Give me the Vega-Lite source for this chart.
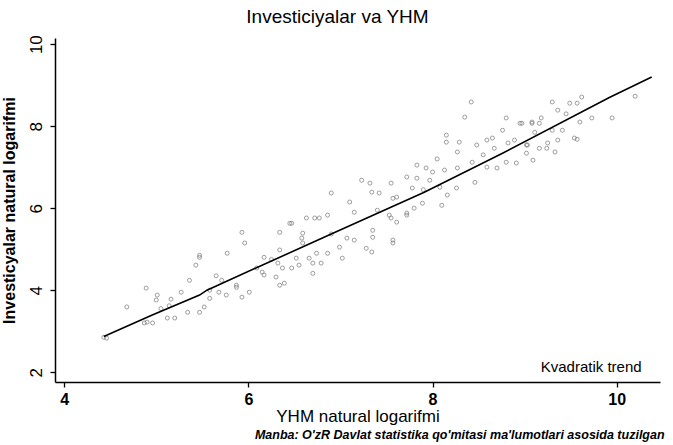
{
  "$schema": "https://vega.github.io/schema/vega-lite/v6.json",
  "width": 605,
  "height": 344,
  "autosize": {"type": "none"},
  "padding": {"left": 55, "top": 38, "right": 13, "bottom": 63},
  "background": "white",
  "title": {"text": "Investiciyalar va YHM", "font": "Liberation Sans", "fontSize": 19, "fontWeight": "normal", "color": "black", "offset": 8, "dx": -20},
  "config": {
    "view": {"stroke": null},
    "axis": {"grid": false, "domainColor": "black", "domainWidth": 1.5, "tickColor": "black", "tickWidth": 1.3, "tickSize": 5, "labelFont": "Liberation Sans", "titleFont": "Liberation Sans", "labelColor": "black", "titleColor": "black"}
  },
  "datasets": {
    "pts": [
      {"x": 4.43, "y": 2.85}, {"x": 4.46, "y": 2.83}, {"x": 4.68, "y": 3.59}, {"x": 4.87, "y": 3.2}, {"x": 4.9, "y": 3.22},
      {"x": 4.96, "y": 3.2}, {"x": 4.89, "y": 4.05}, {"x": 5.01, "y": 3.88}, {"x": 5.0, "y": 3.76}, {"x": 5.16, "y": 3.78},
      {"x": 5.12, "y": 3.32}, {"x": 5.2, "y": 3.32}, {"x": 5.14, "y": 3.62}, {"x": 5.27, "y": 3.95}, {"x": 5.34, "y": 3.46},
      {"x": 5.47, "y": 3.46}, {"x": 5.52, "y": 3.59}, {"x": 5.58, "y": 3.8}, {"x": 5.58, "y": 4.0}, {"x": 5.68, "y": 3.95},
      {"x": 5.76, "y": 3.88}, {"x": 5.87, "y": 4.07}, {"x": 5.93, "y": 3.83}, {"x": 6.01, "y": 3.95}, {"x": 5.71, "y": 4.24},
      {"x": 5.36, "y": 4.24}, {"x": 5.43, "y": 4.61}, {"x": 5.47, "y": 4.8}, {"x": 5.47, "y": 4.85}, {"x": 5.77, "y": 4.9},
      {"x": 5.93, "y": 5.41}, {"x": 5.96, "y": 5.15}, {"x": 5.87, "y": 4.12}, {"x": 6.09, "y": 4.54}, {"x": 6.15, "y": 4.44},
      {"x": 6.17, "y": 4.8}, {"x": 6.17, "y": 4.37}, {"x": 6.3, "y": 4.32}, {"x": 6.39, "y": 4.17}, {"x": 6.34, "y": 4.12},
      {"x": 6.34, "y": 4.98}, {"x": 6.32, "y": 4.66}, {"x": 6.37, "y": 4.54}, {"x": 6.47, "y": 4.54}, {"x": 6.34, "y": 5.41},
      {"x": 6.47, "y": 5.63}, {"x": 6.52, "y": 4.78}, {"x": 6.55, "y": 4.61}, {"x": 6.58, "y": 5.27}, {"x": 6.59, "y": 5.15},
      {"x": 6.59, "y": 5.39}, {"x": 6.63, "y": 5.76}, {"x": 6.66, "y": 4.78}, {"x": 6.7, "y": 4.66}, {"x": 6.7, "y": 4.41},
      {"x": 6.72, "y": 5.76}, {"x": 6.74, "y": 4.9}, {"x": 6.77, "y": 5.76}, {"x": 6.79, "y": 4.66}, {"x": 6.86, "y": 5.83},
      {"x": 6.86, "y": 4.9}, {"x": 6.9, "y": 6.37}, {"x": 6.99, "y": 5.05}, {"x": 7.02, "y": 4.78}, {"x": 7.07, "y": 5.27},
      {"x": 7.1, "y": 6.15}, {"x": 7.15, "y": 5.9}, {"x": 7.15, "y": 5.22}, {"x": 7.23, "y": 6.68}, {"x": 7.28, "y": 5.02},
      {"x": 7.32, "y": 6.61}, {"x": 7.34, "y": 6.39}, {"x": 7.34, "y": 4.93}, {"x": 7.35, "y": 5.46}, {"x": 7.35, "y": 5.29},
      {"x": 7.42, "y": 6.37}, {"x": 7.53, "y": 5.83}, {"x": 7.55, "y": 6.61}, {"x": 7.55, "y": 5.76}, {"x": 7.57, "y": 6.24},
      {"x": 7.57, "y": 5.22}, {"x": 7.57, "y": 5.15}, {"x": 7.61, "y": 6.27}, {"x": 7.61, "y": 5.66}, {"x": 7.72, "y": 6.76},
      {"x": 7.72, "y": 5.88}, {"x": 7.72, "y": 5.83}, {"x": 7.78, "y": 6.49}, {"x": 7.8, "y": 6.0}, {"x": 7.83, "y": 7.05},
      {"x": 7.83, "y": 6.73}, {"x": 7.89, "y": 6.12}, {"x": 7.93, "y": 6.98}, {"x": 7.97, "y": 6.68}, {"x": 8.0, "y": 6.88},
      {"x": 8.08, "y": 6.51}, {"x": 8.1, "y": 6.07}, {"x": 8.13, "y": 6.93}, {"x": 8.15, "y": 7.78}, {"x": 8.15, "y": 7.61},
      {"x": 8.16, "y": 6.32}, {"x": 8.26, "y": 6.49}, {"x": 8.27, "y": 7.37}, {"x": 8.27, "y": 6.98}, {"x": 8.29, "y": 7.61},
      {"x": 8.35, "y": 8.22}, {"x": 8.42, "y": 8.59}, {"x": 8.43, "y": 7.12}, {"x": 8.46, "y": 6.63}, {"x": 8.48, "y": 7.54},
      {"x": 8.59, "y": 7.66}, {"x": 8.59, "y": 7.0}, {"x": 8.65, "y": 7.71}, {"x": 8.67, "y": 7.46}, {"x": 8.7, "y": 6.98},
      {"x": 8.76, "y": 7.9}, {"x": 8.8, "y": 8.2}, {"x": 8.8, "y": 7.12}, {"x": 8.82, "y": 7.59}, {"x": 8.89, "y": 7.66},
      {"x": 8.91, "y": 7.1}, {"x": 8.95, "y": 8.07}, {"x": 8.97, "y": 8.07}, {"x": 9.02, "y": 7.54}, {"x": 9.02, "y": 7.34},
      {"x": 9.03, "y": 7.54}, {"x": 9.08, "y": 8.1}, {"x": 9.08, "y": 8.07}, {"x": 9.09, "y": 7.17}, {"x": 9.11, "y": 7.85},
      {"x": 9.16, "y": 8.07}, {"x": 9.16, "y": 7.46}, {"x": 9.18, "y": 8.2}, {"x": 9.24, "y": 7.46}, {"x": 9.25, "y": 7.59},
      {"x": 9.3, "y": 8.59}, {"x": 9.3, "y": 7.9}, {"x": 9.33, "y": 7.37}, {"x": 9.36, "y": 8.39}, {"x": 9.36, "y": 7.66},
      {"x": 9.41, "y": 7.9}, {"x": 9.49, "y": 8.56}, {"x": 9.54, "y": 7.71}, {"x": 9.57, "y": 8.56}, {"x": 9.57, "y": 7.68},
      {"x": 9.6, "y": 8.1}, {"x": 9.62, "y": 8.71}, {"x": 9.73, "y": 8.2}, {"x": 9.95, "y": 8.2}, {"x": 10.2, "y": 8.73},
      {"x": 6.45, "y": 5.63}, {"x": 6.9, "y": 5.37}, {"x": 7.4, "y": 5.95}, {"x": 8.05, "y": 7.2}, {"x": 8.55, "y": 7.3},
      {"x": 9.45, "y": 8.3}, {"x": 6.25, "y": 4.75}, {"x": 5.05, "y": 3.55}, {"x": 5.65, "y": 4.35}, {"x": 7.9, "y": 6.45}
    ],
    "trend": [
      {"x": 4.43, "y": 2.87}, {"x": 4.95, "y": 3.39}, {"x": 5.47, "y": 3.88}, {"x": 5.55, "y": 4.0}, {"x": 6.9, "y": 5.37},
      {"x": 7.91, "y": 6.39}, {"x": 8.76, "y": 7.34}, {"x": 9.92, "y": 8.7}, {"x": 10.38, "y": 9.2}
    ],
    "notes": [
      {"label": "Kvadratik trend", "x": 10.27, "y": 2.0}
    ],
    "source": [
      {"label": "Manba: O'zR Davlat statistika qo'mitasi ma'lumotlari asosida tuzilgan", "x": 10.52, "y": 0.37}
    ]
  },
  "layer": [
    {
      "data": {"name": "pts"},
      "mark": {"type": "point", "shape": "circle", "filled": false, "stroke": "#7a7a7a", "strokeWidth": 0.8, "size": 16, "opacity": 0.9},
      "encoding": {
        "x": {"field": "x", "type": "quantitative", "scale": {"domain": [3.9, 10.47], "nice": false, "zero": false},
          "axis": {"values": [4, 6, 8, 10], "format": "d", "title": "YHM natural logarifmi", "titleFontSize": 17, "titleFontWeight": "normal", "titlePadding": 1, "labelFontSize": 16, "labelFontWeight": "bold", "labelPadding": 4}},
        "y": {"field": "y", "type": "quantitative", "scale": {"domain": [1.76, 10.15], "nice": false, "zero": false},
          "axis": {"values": [2, 4, 6, 8, 10], "format": "d", "title": "Investicyalar natural logarifmi", "titleFontSize": 16, "titleFontWeight": "bold", "titlePadding": 10, "labelFontSize": 17, "labelFontWeight": "normal", "labelAngle": -90, "labelAlign": "center", "labelBaseline": "bottom", "labelPadding": 5}}
      }
    },
    {
      "data": {"name": "trend"},
      "mark": {"type": "line", "color": "black", "strokeWidth": 1.6},
      "encoding": {
        "x": {"field": "x", "type": "quantitative"},
        "y": {"field": "y", "type": "quantitative"}
      }
    },
    {
      "data": {"name": "notes"},
      "mark": {"type": "text", "align": "right", "baseline": "alphabetic", "font": "Liberation Sans", "fontSize": 15, "color": "black"},
      "encoding": {
        "x": {"field": "x", "type": "quantitative"},
        "y": {"field": "y", "type": "quantitative"},
        "text": {"field": "label"}
      }
    },
    {
      "data": {"name": "source"},
      "mark": {"type": "text", "align": "right", "baseline": "alphabetic", "font": "Liberation Sans", "fontSize": 12.5, "fontWeight": "bold", "fontStyle": "italic", "color": "black"},
      "encoding": {
        "x": {"field": "x", "type": "quantitative"},
        "y": {"field": "y", "type": "quantitative"},
        "text": {"field": "label"}
      }
    }
  ]
}
